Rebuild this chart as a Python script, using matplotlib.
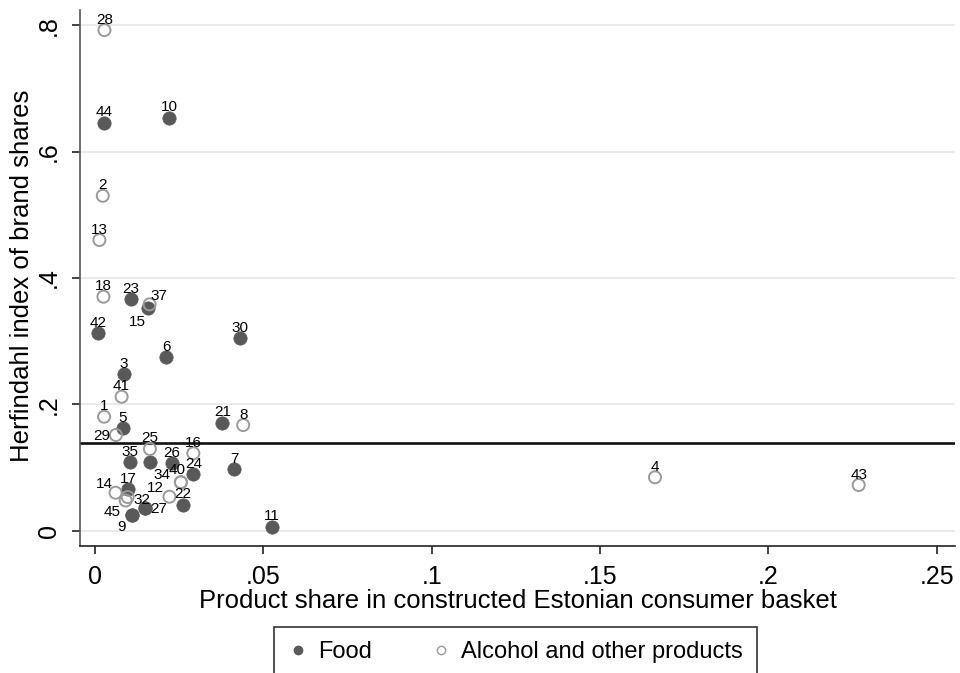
import matplotlib
matplotlib.use('Agg')
import matplotlib.pyplot as plt
from matplotlib.lines import Line2D

plt.rcParams['font.family'] = ['Liberation Sans', 'DejaVu Sans']

# Food products (filled markers)
food_ids = ['44', '10', '23', '15', '42', '30', '6', '3', '5', '21', '35', '',
            '26', '24', '7', '17', '32', '27', '45', '9', '22', '11']
food_x = [0.0027, 0.0221, 0.0107, 0.0157, 0.0008, 0.0431, 0.0211, 0.0086, 0.0082, 0.0378, 0.0104, 0.0163,
          0.0228, 0.0292, 0.0414, 0.0099, 0.0149, 0.0149, 0.0109, 0.0109, 0.0262, 0.0525]
food_y = [0.6456, 0.6535, 0.3666, 0.3528, 0.3123, 0.3044, 0.2744, 0.2475, 0.1620, 0.1709, 0.1082, 0.1082,
          0.1066, 0.0897, 0.0972, 0.0660, 0.0354, 0.0354, 0.0248, 0.0248, 0.0407, 0.0063]

# Alcohol and other products (hollow markers)
alc_ids = ['28', '2', '13', '18', '37', '41', '1', '29', '8', '25', '16', '40', '34',
           '12', '14', '', '', '4', '43']
alc_x = [0.0028, 0.0023, 0.0013, 0.0025, 0.0162, 0.0079, 0.0027, 0.0062, 0.0440, 0.0163, 0.0292, 0.0255, 0.0255,
         0.0221, 0.0061, 0.0091, 0.0097, 0.1663, 0.2268]
alc_y = [0.7922, 0.5300, 0.4600, 0.3703, 0.3582, 0.2120, 0.1804, 0.1514, 0.1672, 0.1293, 0.1225, 0.0766, 0.0766,
         0.0538, 0.0601, 0.0478, 0.0533, 0.0845, 0.0723]

hhi_line = 0.139

x_ticks = [0, 0.05, 0.1, 0.15, 0.2, 0.25]
x_ticklabels = ['0', '.05', '.1', '.15', '.2', '.25']
y_ticks = [0, 0.2, 0.4, 0.6, 0.8]
y_ticklabels = ['0', '.2', '.4', '.6', '.8']

# label offsets in pixels (dx right, dy up); default is straight above
default_off = (0, 10.5)
label_off = {'15': (-11, -14), '37': (9, 8), '27': (13, -1), '45': (-20, 3),
             '9': (-10, -12), '14': (-11, 9), '12': (-14, 9), '34': (-19, 7),
             '29': (-14, -1), '32': (-3, 8), '40': (-4, 12)}

fill_col = '#595959'
hollow_col = '#9a9a9a'

fig = plt.figure(figsize=(9.6, 6.73), dpi=100)
ax = fig.add_axes([80 / 960, 1 - 546 / 673, 875 / 960, 536 / 673])

ax.set_xlim(-0.00446, 0.2554)
ax.set_ylim(-0.0242, 0.824)

for yt in y_ticks:
    ax.axhline(yt, color='#e8e8e8', lw=1.3, zorder=0)

ax.axhline(hhi_line, color='#111111', lw=1.9, zorder=1)

ax.scatter(food_x, food_y, s=92, color=fill_col, edgecolors=fill_col, linewidths=0.5, zorder=3)
ax.scatter(alc_x, alc_y, s=75, facecolors='none', edgecolors=hollow_col, linewidths=1.4, zorder=4)

px2pt = 72 / 100
for ids, xs, ys in [(food_ids, food_x, food_y), (alc_ids, alc_x, alc_y)]:
    for lab, x, y in zip(ids, xs, ys):
        if not lab:
            continue
        dx, dy = label_off.get(lab, default_off)
        ax.annotate(lab, (x, y), xytext=(dx * px2pt, dy * px2pt), textcoords='offset points',
                    ha='center', va='center', fontsize=11, color='black', zorder=5)

ax.set_xticks(x_ticks)
ax.set_xticklabels(x_ticklabels, fontsize=18)
ax.set_yticks(y_ticks)
ax.set_yticklabels(y_ticklabels, fontsize=18, rotation=90, va='center')
ax.tick_params(axis='both', direction='out', length=6, width=1.2, color='#222222')
ax.tick_params(axis='x', pad=8)
ax.tick_params(axis='y', pad=8)

for s in ['top', 'right']:
    ax.spines[s].set_visible(False)
ax.spines['left'].set_color('#555555')
ax.spines['bottom'].set_color('#222222')
ax.spines['left'].set_linewidth(1.2)
ax.spines['bottom'].set_linewidth(1.2)

ax.set_xlabel('Product share in constructed Estonian consumer basket', fontsize=18.5)
ax.set_ylabel('Herfindahl index of brand shares', fontsize=18.5)
ax.xaxis.set_label_coords(0.5, -0.08)
ax.yaxis.set_label_coords(-0.052, 0.505)

handles = [
    Line2D([], [], ls='none', marker='o', markersize=6, color=fill_col, label='Food'),
    Line2D([], [], ls='none', marker='o', markersize=6, markerfacecolor='none',
           markeredgecolor=hollow_col, markeredgewidth=1.0, label='Alcohol and other products'),
]
leg = fig.legend(handles=handles, loc='upper center', bbox_to_anchor=(515.5 / 960, 1 - 627 / 673),
                 ncol=2, fontsize=17, frameon=True, fancybox=False, edgecolor='black',
                 handlelength=0.8, handletextpad=0.45, columnspacing=2.5, borderpad=0.6,
                 borderaxespad=0)
leg.get_frame().set_linewidth(1.2)

fig.savefig('out.png', dpi=100)
